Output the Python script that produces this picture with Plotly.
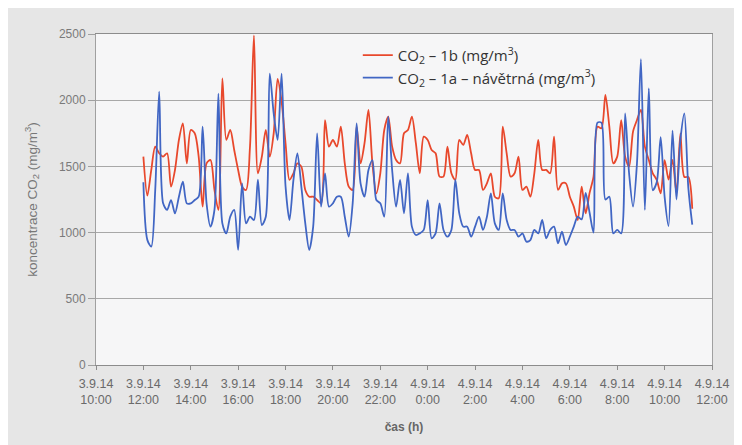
import pandas as pd
import plotly.graph_objects as go

start_time = "2014-09-03 12:00"
step = "10min"

co2_1b = [1574, 1280, 1473, 1649, 1599, 1574, 1599, 1347, 1473, 1700,
          1825, 1523, 1775, 1750, 1574, 1196, 1523, 1548, 1322, 1171,
          2165, 1700, 1775, 1624, 1473, 1347, 1322, 1649, 2490, 1448,
          1574, 1775, 1574, 1750, 2160, 1990, 1675, 1398, 1448, 1523,
          1498, 1322, 1271, 1271, 1246, 1221, 1850, 1649, 1700, 1649,
          1800, 1523, 1347, 1322, 1800, 1523, 1675, 1926, 1523, 1297,
          1448, 1775, 1876, 1649, 1548, 1523, 1750, 1775, 1876, 1675,
          1448, 1725, 1700, 1624, 1599, 1423, 1423, 1649, 1448, 1398,
          1700, 1662, 1737, 1599, 1473, 1473, 1322, 1372, 1448, 1271,
          1259, 1800, 1599, 1423, 1448, 1574, 1322, 1347, 1271, 1448,
          1700, 1473, 1473, 1448, 1725, 1322, 1372, 1372, 1271, 1196,
          1095, 1347, 1145, 1300, 1423, 1800, 1788, 2040, 1800, 1523,
          1574, 1850, 1574, 1498, 1763, 1850, 1926, 1649, 1548, 1448,
          1398, 1297, 1548, 1400, 1550, 1300, 1750, 1420, 1420, 1180]

co2_1a = [1380, 945, 894, 1322, 2064, 1221, 1171, 1246, 1145, 1271,
          1385, 1221, 1221, 1246, 1271, 1800, 1221, 1045, 1171, 2050,
          1070, 994, 1120, 1171, 869, 1372, 1070, 1120, 1095, 1400,
          1057, 1120, 2200, 1900, 1700, 2200, 1350, 1095, 1398, 1599,
          1347, 1070, 869, 1045, 1750, 1196, 1448, 1196, 1221, 1271,
          1271, 1120, 969, 1221, 1825, 1372, 1271, 1473, 1548, 1246,
          1221, 1120, 1876, 1473, 1196, 1398, 1145, 1448, 1045, 982,
          994, 1020, 1246, 957, 994, 1221, 1020, 969, 1020, 1398,
          1145, 1045, 1045, 969, 1045, 1120, 1020, 1120, 1297, 1070,
          1020, 1297, 1095, 1020, 1020, 969, 994, 932, 944, 1020,
          994, 1095, 957, 1020, 1045, 919, 1007, 906, 969, 1045,
          1120, 1100, 1300, 1150, 1000, 1830, 1830, 1250, 1271, 994,
          1020, 994, 1900, 1448, 1196, 1523, 2310, 1171, 2090, 1320,
          1380, 1720, 1270, 1050, 1770, 1250, 1700, 1900, 1340, 1060]

times = pd.date_range(start_time, periods=len(co2_1b), freq=step)

name_1b = "CO<sub>2</sub> – 1b (mg/m<sup>3</sup>)"
name_1a = "CO<sub>2</sub> – 1a – návětrná (mg/m<sup>3</sup>)"
y_title = "koncentrace CO<sub>2</sub> (mg/m<sup>3</sup>)"
x_title = "čas (h)"

fig = go.Figure()
fig.add_trace(go.Scatter(x=times, y=co2_1b, name=name_1b, mode="lines",
                         line=dict(color="#e8482c", width=1.8, shape="spline", smoothing=0.8)))
fig.add_trace(go.Scatter(x=times, y=co2_1a, name=name_1a, mode="lines",
                         line=dict(color="#4166c4", width=1.8, shape="spline", smoothing=0.8)))

fig.update_layout(
    width=742, height=445,
    margin=dict(l=88, r=38, t=26, b=88),
    paper_bgcolor="#e6e6e6",
    plot_bgcolor="#f6f6f7",
    font=dict(family="Liberation Sans, Arial, sans-serif", color="#666666", size=10),
    showlegend=True,
    legend=dict(x=0.425, y=0.985, xanchor="left", yanchor="top",
                bgcolor="rgba(0,0,0,0)", font=dict(family="Open Sans, sans-serif", size=15, color="#333333"),
                tracegroupgap=0, itemwidth=30),
)

fig.update_xaxes(
    range=["2014-09-03 10:00", "2014-09-04 12:00"],
    dtick=2 * 3600 * 1000,
    tick0="2014-09-03 10:00",
    tickformat="%-d.%-m.%y<br>%-H:%M",
    showgrid=False,
    showline=True, linecolor="#8c8c8c", linewidth=1, mirror=True,
    ticks="outside", ticklen=4, tickcolor="#8c8c8c",
    ticklabelstandoff=3,
    tickfont=dict(size=12.5, color="#6a6a6a"),
    title=dict(text="<b>" + x_title + "</b>", font=dict(size=12, color="#666666"), standoff=16),
)
fig.update_yaxes(
    range=[0, 2500],
    dtick=500,
    showgrid=True, gridcolor="#a8a8a8", gridwidth=1,
    showline=True, linecolor="#a0a0a0", linewidth=1, mirror=True,
    ticks="outside", ticklen=7, tickcolor="#a0a0a0",
    tickfont=dict(size=12, color="#7a7a7a"),
    zeroline=False,
    title=dict(text=y_title, font=dict(size=13.5, color="#777777"), standoff=18),
)

fig.write_html("out.html")
